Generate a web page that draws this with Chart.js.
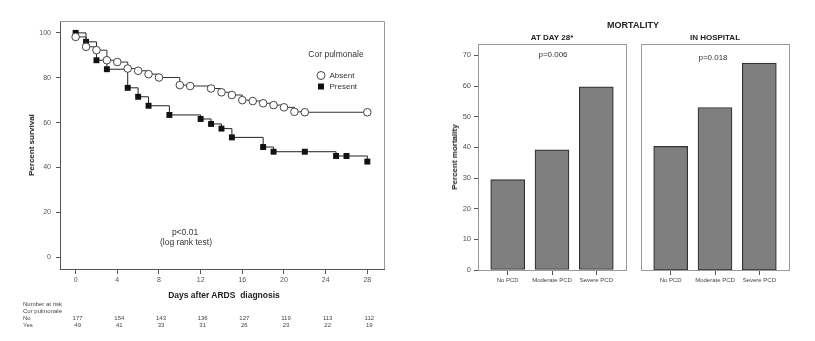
<!DOCTYPE html>
<html>
<head>
<meta charset="utf-8">
<script src="https://cdn.jsdelivr.net/npm/chart.js@4.4.0/dist/chart.umd.min.js"></script>
<style>
body { margin:0; background:#fff; width:815px; height:341px; position:relative; overflow:hidden; font-family:"Liberation Sans", Arial, sans-serif; }
canvas { position:absolute; top:0; }
.t { position:absolute; white-space:nowrap; color:#333; transform:translate(-50%,-50%); line-height:1; }
.b { font-weight:bold; color:#222; }
.rot { transform:translate(-50%,-50%) rotate(-90deg); }
</style>
</head>
<body>
<canvas id="km" width="400" height="341" style="left:0;width:400px;height:341px"></canvas>
<canvas id="day28" width="215" height="341" style="left:420px;width:215px;height:341px"></canvas>
<canvas id="hosp" width="185" height="341" style="left:630px;width:185px;height:341px"></canvas>

<div class="t b rot" style="left:32px;top:145px;font-size:8px">Percent survival</div>
<div class="t b" style="left:224px;top:295px;font-size:8.5px">Days after ARDS&nbsp; diagnosis</div>
<div class="t" style="left:185px;top:232px;font-size:8.5px">p&lt;0.01</div>
<div class="t" style="left:186px;top:242px;font-size:8.5px">(log rank test)</div>
<div class="t" style="left:336px;top:54px;font-size:8.5px">Cor pulmonale</div>

<div class="t b" style="left:633px;top:25px;font-size:9px">MORTALITY</div>
<div class="t b" style="left:552px;top:38px;font-size:8px">AT DAY 28*</div>
<div class="t b" style="left:715px;top:38px;font-size:8px">IN HOSPITAL</div>
<div class="t" style="left:553px;top:55px;font-size:8px">p=0.006</div>
<div class="t" style="left:713px;top:58px;font-size:8px">p=0.018</div>
<div class="t b rot" style="left:455px;top:157px;font-size:8px">Percent mortality</div>

<script>
// survival curves (Kaplan-Meier)
const absentDays = [0, 1, 2, 3, 4, 5, 6, 7, 8, 10, 11, 13, 14, 15, 16, 17, 18, 19, 20, 21, 22, 28];
const absentSurv = [98.2, 93.8, 92.3, 87.8, 87.0, 84.1, 83.1, 81.6, 80.1, 76.7, 76.3, 75.2, 73.5, 72.3, 70.0, 69.6, 68.6, 67.8, 66.8, 64.8, 64.6, 64.6];
const presentDays = [0, 1, 2, 3, 5, 6, 7, 9, 12, 13, 14, 15, 18, 19, 22, 25, 26, 28];
const presentSurv = [100, 96.0, 87.8, 83.8, 75.5, 71.5, 67.5, 63.4, 61.6, 59.4, 57.3, 53.4, 49.1, 47.0, 47.0, 45.1, 45.1, 42.6];

const dayTicks = [0, 4, 8, 12, 16, 20, 24, 28];
const survTicks = [0, 20, 40, 60, 80, 100];
const riskNo = [177, 154, 143, 136, 127, 119, 113, 112];
const riskYes = [49, 41, 33, 31, 26, 23, 22, 19];

// mortality bars
const pcdGroups = ['No PCD', 'Moderate PCD', 'Severe PCD'];
const mortDay28 = [29.5, 39.2, 59.7];
const mortHospital = [40.3, 53.0, 67.5];
const mortTicks = [0, 10, 20, 30, 40, 50, 60, 70];

const FONT = '"Liberation Sans", Arial, sans-serif';

function toXY(xs, ys) {
	return xs.map(function(x, i) { return {x: x, y: ys[i]}; });
}

const kmExtras = {
	id: 'kmExtras',
	beforeDatasetsDraw: function(chart) {
		var ctx = chart.ctx, a = chart.chartArea;
		ctx.save();
		ctx.strokeStyle = '#999';
		ctx.lineWidth = 1;
		ctx.beginPath();
		ctx.moveTo(a.left, a.top + 0.5);
		ctx.lineTo(a.right + 0.5, a.top + 0.5);
		ctx.lineTo(a.right + 0.5, a.bottom);
		ctx.stroke();
		ctx.restore();
	},
	afterDraw: function(chart) {
		var ctx = chart.ctx;
		var xs = chart.scales.x;
		ctx.save();
		// legend
		ctx.lineWidth = 1;
		ctx.strokeStyle = '#444';
		ctx.fillStyle = '#fff';
		ctx.beginPath();
		ctx.arc(321, 75.5, 4, 0, Math.PI * 2);
		ctx.fill();
		ctx.stroke();
		ctx.fillStyle = '#111';
		ctx.fillRect(318, 83.5, 6, 6);
		ctx.fillStyle = '#333';
		ctx.font = '8px ' + FONT;
		ctx.textBaseline = 'middle';
		ctx.fillText('Absent', 329.5, 75.5);
		ctx.fillText('Present', 329.5, 86.5);

		// number at risk table
		ctx.font = '6px ' + FONT;
		ctx.fillStyle = '#444';
		ctx.fillText('Number at risk', 23, 304);
		ctx.fillText('Cor pulmonale', 23, 311);
		ctx.fillText('No', 23, 318);
		ctx.fillText('Yes', 23, 325);
		ctx.textAlign = 'center';
		dayTicks.forEach(function(d, i) {
			var px = xs.getPixelForValue(d) + 2;
			ctx.fillText(String(riskNo[i]), px, 318);
			ctx.fillText(String(riskYes[i]), px, 325);
		});
		ctx.restore();
	}
};

new Chart(document.getElementById('km'), {
	type: 'line',
	data: {
		datasets: [{
			label: 'Absent',
			data: toXY(absentDays, absentSurv),
			stepped: true,
			borderColor: '#333',
			borderWidth: 1,
			pointStyle: 'circle',
			pointRadius: 3.8,
			pointBackgroundColor: '#fff',
			pointBorderColor: '#444',
			pointBorderWidth: 1,
			fill: false
		}, {
			label: 'Present',
			data: toXY(presentDays, presentSurv),
			stepped: true,
			borderColor: '#222',
			borderWidth: 1,
			pointStyle: 'rect',
			pointRadius: 4.2,
			pointBackgroundColor: '#111',
			pointBorderColor: '#111',
			pointBorderWidth: 0,
			fill: false
		}]
	},
	options: {
		responsive: false,
		animation: false,
		layout: { padding: { left: 0, top: 21, right: 16, bottom: 52 } },
		plugins: { legend: { display: false }, tooltip: { enabled: false } },
		scales: {
			x: {
				type: 'linear',
				min: -1.5,
				max: 29.6,
				afterBuildTicks: function(s) { s.ticks = dayTicks.map(function(v) { return {value: v}; }); },
				afterFit: function(s) { s.height = 20; },
				border: { color: '#555', width: 1 },
				grid: { drawOnChartArea: false, tickLength: 5, color: '#555' },
				ticks: { font: { size: 7, family: FONT }, color: '#555', padding: 2, maxRotation: 0 }
			},
			y: {
				min: -5.3,
				max: 105.3,
				afterBuildTicks: function(s) { s.ticks = survTicks.map(function(v) { return {value: v}; }); },
				afterFit: function(s) { s.width = 60; },
				border: { color: '#555', width: 1 },
				grid: { drawOnChartArea: false, tickLength: 4, color: '#555' },
				ticks: { font: { size: 7, family: FONT }, color: '#555', padding: 5 }
			}
		}
	},
	plugins: [kmExtras]
});

const panelBox = {
	id: 'panelBox',
	beforeDatasetsDraw: function(chart) {
		var ctx = chart.ctx, a = chart.chartArea;
		ctx.save();
		ctx.strokeStyle = '#999';
		ctx.lineWidth = 1;
		ctx.strokeRect(Math.round(a.left) + 0.5, Math.round(a.top) + 0.5,
			Math.round(a.right - a.left), Math.round(a.bottom - a.top));
		ctx.restore();
	}
};

function mortChart(id, values, showY, pad) {
	return new Chart(document.getElementById(id), {
		type: 'bar',
		data: {
			datasets: [{
				data: toXY([0, 1, 2], values),
				backgroundColor: '#7f7f7f',
				borderColor: '#333',
				borderWidth: 1.2,
				borderSkipped: false,
				barThickness: 34
			}]
		},
		options: {
			responsive: false,
			animation: false,
			layout: { padding: pad },
			plugins: { legend: { display: false }, tooltip: { enabled: false } },
			scales: {
				x: {
					type: 'linear',
					offset: false,
					min: -0.67,
					max: 2.67,
					afterBuildTicks: function(s) { s.ticks = [0, 1, 2].map(function(v) { return {value: v}; }); },
					afterFit: function(s) { s.height = 20; s.paddingLeft = 0; s.paddingRight = 0; },
					border: { display: false },
					grid: { drawOnChartArea: false, tickLength: 5, color: '#555', offset: false },
					ticks: {
						font: { size: 6, family: FONT }, color: '#444', padding: 2, maxRotation: 0,
						callback: function(v) { return pcdGroups[v]; }
					}
				},
				y: {
					display: showY,
					min: 0,
					max: 73.7,
					afterBuildTicks: function(s) { s.ticks = mortTicks.map(function(v) { return {value: v}; }); },
					afterFit: function(s) { s.width = showY ? 58 : 0; },
					border: { display: false },
					grid: { drawOnChartArea: false, tickLength: 4, color: '#555' },
					ticks: { font: { size: 7.5, family: FONT }, color: '#555', padding: 3 }
				}
			}
		},
		plugins: [panelBox]
	});
}

mortChart('day28', mortDay28, true, { left: 0, top: 44, right: 9, bottom: 51 });
mortChart('hosp', mortHospital, false, { left: 11, top: 44, right: 26, bottom: 51 });
</script>
</body>
</html>
